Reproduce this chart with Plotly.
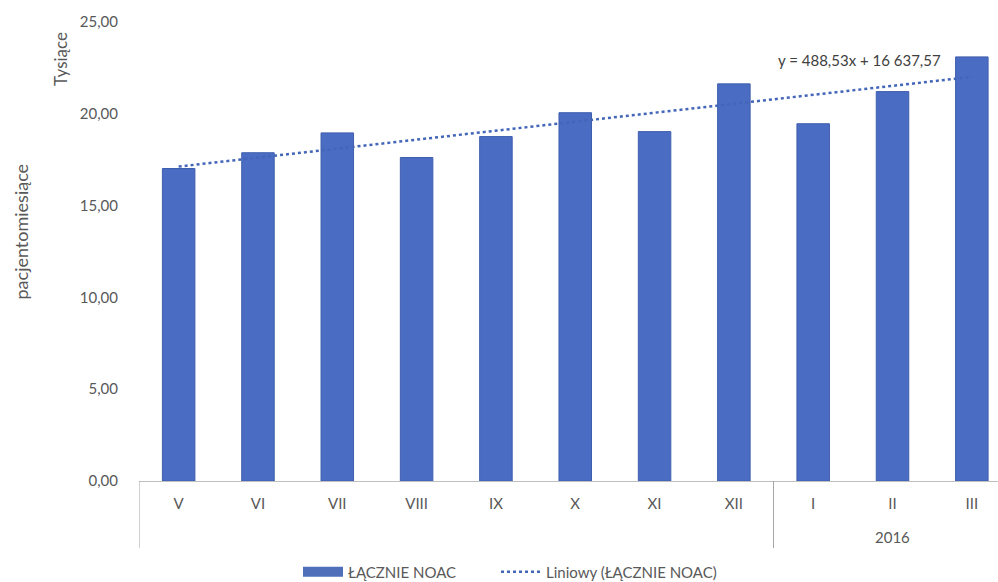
import plotly.graph_objects as go

months = ["V", "VI", "VII", "VIII", "IX", "X", "XI", "XII", "I", "II", "III"]
values = [17.02, 17.88, 18.96, 17.62, 18.76, 20.06, 19.03, 21.63, 19.46, 21.21, 23.10]
year_label = "2016"
y_ticks = [0, 5, 10, 15, 20, 25]
y_tick_text = ["0,00", "5,00", "10,00", "15,00", "20,00", "25,00"]
trend_slope = 488.53
trend_intercept = 16637.57
trend_label = "y = 488,53x + 16 637,57"
series_name = "ŁĄCZNIE NOAC"
trend_name = "Liniowy (ŁĄCZNIE NOAC)"

xs = list(range(len(months)))
trend_x = [xs[0], xs[-1]]
trend_y = [(trend_slope * (x + 1) + trend_intercept) / 1000 for x in trend_x]

FONT = "Lato"
GRAY = "#595959"
BLUE = "#4a6cc3"

fig = go.Figure()
fig.add_trace(go.Bar(
    x=xs, y=values, name=series_name, width=0.41, showlegend=False,
    marker=dict(color=BLUE, line=dict(color="#3f5fae", width=1)),
))
# legend proxy for the bar series (wide rectangle swatch)
fig.add_trace(go.Scatter(
    x=[None], y=[None], mode="lines", name=series_name, legend="legend",
    line=dict(color="#4f6fba", width=10),
))
fig.add_trace(go.Scatter(
    x=trend_x, y=trend_y, mode="lines", name=trend_name, legend="legend2",
    line=dict(color="#4466b8", width=2.5, dash="dot"),
))

legend_common = dict(orientation="h", xref="container", yref="container",
                     xanchor="left", y=0.017, yanchor="middle",
                     font=dict(size=15, color=GRAY), itemwidth=40,
                     bgcolor="rgba(0,0,0,0)")

fig.update_layout(
    width=998, height=582,
    margin=dict(l=139, r=0, t=22, b=101),
    plot_bgcolor="white", paper_bgcolor="white",
    font=dict(family=FONT, size=15, color=GRAY),
    showlegend=True,
    legend=dict(x=298 / 998, **legend_common),
    legend2=dict(x=496 / 998, **legend_common),
    xaxis=dict(range=[-0.5, 10.33], tickmode="array", tickvals=xs, ticktext=months,
               showgrid=False, zeroline=False, showline=True, linecolor="#bfbfbf",
               linewidth=1, ticks="", ticklabelstandoff=9),
    yaxis=dict(range=[0, 25], tickmode="array", tickvals=y_ticks, ticktext=y_tick_text,
               showgrid=False, zeroline=False, showline=False, ticks="",
               ticklabelstandoff=20),
)

# category group dividers
for xv in [-0.5, 7.5]:
    fig.add_shape(type="line", xref="x", yref="paper", x0=xv, x1=xv, y0=0, y1=-0.146,
                  line=dict(color="#a6a6a6", width=1))

fig.add_annotation(x=9, y=-0.122, xref="x", yref="paper", text=year_label,
                   showarrow=False, yshift=-11, font=dict(size=15, color=GRAY))
fig.add_annotation(x=-0.5, y=25, xref="x", yref="y", text="Tysiące",
                   showarrow=False, textangle=-90, xshift=-79, yshift=-37,
                   font=dict(size=17, color=GRAY))
fig.add_annotation(x=-0.5, y=12.5, xref="x", yref="y", text="pacjentomiesiące",
                   showarrow=False, textangle=-90, xshift=-119, yshift=20,
                   font=dict(size=18, color=GRAY))
fig.add_annotation(x=9.5, y=trend_y[-1], xref="x", yref="y", text=trend_label,
                   showarrow=False, xshift=-73, yshift=17,
                   font=dict(size=15, color="#404040"))

fig.write_html("out.html")
